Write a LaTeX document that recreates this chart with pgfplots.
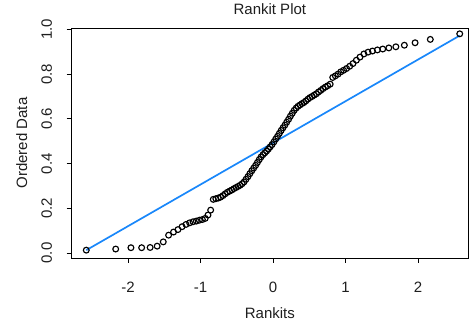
\documentclass[border=0pt]{standalone}
\usepackage{pgfplots}
\pgfplotsset{compat=1.18}
\usepackage{fontspec}
\setmainfont{Liberation Sans}
\definecolor{fitblue}{RGB}{25,135,250}
\definecolor{inkgray}{RGB}{30,30,30}

% Ordered sample (y) against rankits (x)
\pgfplotstableread{
x y
-2.576 0.013
-2.170 0.018
-1.960 0.024
-1.812 0.024
-1.695 0.025
-1.598 0.031
-1.514 0.050
-1.440 0.080
-1.372 0.094
-1.311 0.105
-1.254 0.118
-1.200 0.128
-1.150 0.135
-1.103 0.140
-1.058 0.143
-1.015 0.147
-0.974 0.150
-0.935 0.155
-0.897 0.170
-0.860 0.192
-0.824 0.240
-0.789 0.243
-0.755 0.246
-0.723 0.250
-0.690 0.257
-0.659 0.265
-0.628 0.272
-0.598 0.277
-0.568 0.282
-0.539 0.288
-0.510 0.293
-0.482 0.298
-0.454 0.303
-0.426 0.310
-0.399 0.318
-0.372 0.330
-0.345 0.342
-0.319 0.355
-0.292 0.368
-0.266 0.380
-0.240 0.392
-0.215 0.405
-0.189 0.418
-0.164 0.430
-0.138 0.440
-0.113 0.448
-0.088 0.456
-0.063 0.465
-0.038 0.475
-0.013 0.485
0.013 0.497
0.038 0.510
0.063 0.522
0.088 0.535
0.113 0.548
0.138 0.560
0.164 0.572
0.189 0.585
0.215 0.598
0.240 0.612
0.266 0.625
0.292 0.638
0.319 0.648
0.345 0.656
0.372 0.662
0.399 0.668
0.426 0.673
0.454 0.680
0.482 0.688
0.510 0.695
0.539 0.700
0.568 0.706
0.598 0.712
0.628 0.720
0.659 0.727
0.690 0.735
0.723 0.742
0.755 0.748
0.789 0.755
0.824 0.785
0.860 0.792
0.897 0.800
0.935 0.810
0.974 0.817
1.015 0.825
1.058 0.835
1.103 0.847
1.150 0.862
1.200 0.876
1.254 0.890
1.311 0.898
1.372 0.903
1.440 0.908
1.514 0.912
1.598 0.917
1.695 0.922
1.812 0.929
1.960 0.940
2.170 0.955
2.576 0.980
}\rankits

\begin{document}
\begin{tikzpicture}
\begin{axis}[
  scale only axis,
  width=396.3pt, height=230pt,
  xmin=-2.777, xmax=2.69,
  ymin=-0.022, ymax=1.006,
  axis line style={line width=0.9pt, black},
  tick align=outside,
  major tick length=5pt,
  tick style={line width=0.9pt, black},
  xtick pos=bottom, ytick pos=left,
  xtick={-2,-1,0,1,2},
  xticklabels={-2,-1,0,1,2},
  ytick={0,0.2,0.4,0.6,0.8,1.0},
  yticklabels={0.0,0.2,0.4,0.6,0.8,1.0},
  every tick label/.append style={font=\fontsize{15}{18}\selectfont, text=inkgray},
  xticklabel style={anchor=center, yshift=-24pt},
  yticklabel style={rotate=90, anchor=center, yshift=20pt},
  title={Rankit Plot},
  title style={at={(axis description cs:0.5,1.0565)}, anchor=center,
    font=\fontsize{15}{18}\selectfont, text=inkgray},
  xlabel={Rankits},
  xlabel style={at={(axis description cs:0.5,-0.239)}, anchor=center,
    font=\fontsize{15}{18}\selectfont, text=inkgray},
  ylabel={Ordered Data},
  ylabel style={at={(axis description cs:-0.126,0.5)}, anchor=center, rotate=0,
    font=\fontsize{15}{18}\selectfont, text=inkgray},
  clip=false,
]
\addplot[only marks, mark=o, mark size=2.9pt, mark options={line width=1.15pt, black}]
  table[x=x, y=y] {\rankits};
\addplot[fitblue, line width=1.7pt] coordinates {(-2.576,0.013) (2.576,0.972)};
\end{axis}
\pgfresetboundingbox
\path ([xshift=-71.7pt, yshift=-66pt]current axis.south west)
  rectangle ([xshift=2pt, yshift=28pt]current axis.north east);
\end{tikzpicture}
\end{document}
